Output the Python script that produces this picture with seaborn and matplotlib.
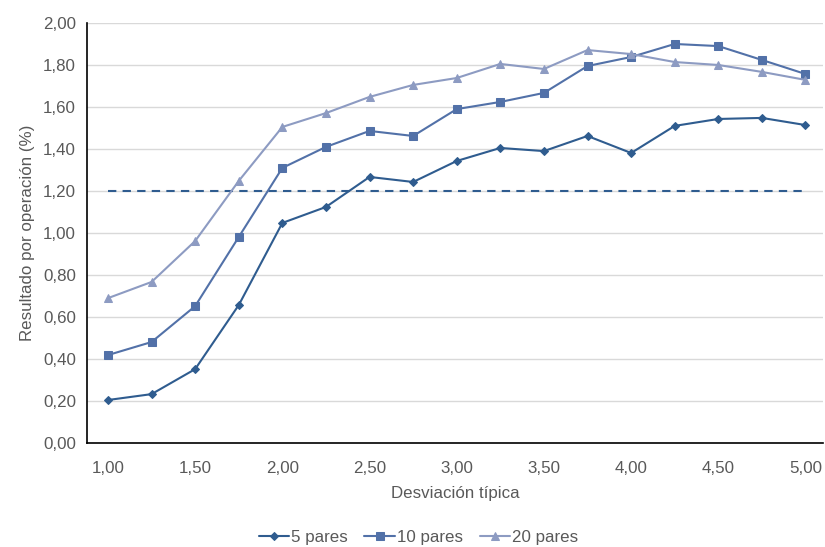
import matplotlib
matplotlib.use("Agg")
import matplotlib.pyplot as plt
from matplotlib.ticker import FuncFormatter, MultipleLocator
import seaborn as sns
import pandas as pd

desviacion = [1.00, 1.25, 1.50, 1.75, 2.00, 2.25, 2.50, 2.75, 3.00, 3.25,
              3.50, 3.75, 4.00, 4.25, 4.50, 4.75, 5.00]
pares_5 = [0.205, 0.233, 0.352, 0.657, 1.048, 1.124, 1.267, 1.243, 1.343, 1.405,
           1.390, 1.462, 1.381, 1.510, 1.543, 1.548, 1.514]
pares_10 = [0.419, 0.481, 0.652, 0.981, 1.310, 1.410, 1.486, 1.462, 1.590, 1.624,
            1.667, 1.795, 1.838, 1.900, 1.890, 1.824, 1.757]
pares_20 = [0.690, 0.767, 0.962, 1.248, 1.505, 1.571, 1.648, 1.705, 1.738, 1.805,
            1.781, 1.871, 1.852, 1.814, 1.800, 1.767, 1.729]
umbral = 1.20

series_names = ["5 pares", "10 pares", "20 pares"]
colors = ["#2F5C8F", "#5271A8", "#8D9BC2"]
markers = ["D", "s", "^"]
msizes = [3.6, 5.3, 5.8]

sns.set_theme(style="white")
plt.rcParams['font.family'] = ['Liberation Sans', 'DejaVu Sans']

fig = plt.figure(figsize=(8.25, 5.47), dpi=100)
ax = fig.add_axes([0.1055, 0.190, 0.892, 0.768])

ax.hlines(umbral, desviacion[0], desviacion[-1], colors="#2F5C8F",
          linestyles=(0, (4, 3)), linewidth=1.5, zorder=2)

for name, vals, c, m, ms in zip(series_names, [pares_5, pares_10, pares_20], colors, markers, msizes):
    df = pd.DataFrame({"x": desviacion, "y": vals})
    sns.lineplot(data=df, x="x", y="y", ax=ax, color=c, marker=m, markersize=ms,
                 markeredgecolor=c, linewidth=1.5, label=name, zorder=3)

ax.set_xlim(0.88, 5.10)
ax.set_ylim(0, 2.0)
ax.xaxis.set_major_locator(MultipleLocator(0.5))
ax.yaxis.set_major_locator(MultipleLocator(0.2))
fmt = FuncFormatter(lambda v, p: f"{v:.2f}".replace(".", ","))
ax.xaxis.set_major_formatter(fmt)
ax.yaxis.set_major_formatter(fmt)
ax.grid(axis="y", color="#D9D9D9", linewidth=1)
ax.set_axisbelow(True)
for s in ["top", "right"]:
    ax.spines[s].set_visible(False)
for s in ["left", "bottom"]:
    ax.spines[s].set_color("#000000")
    ax.spines[s].set_linewidth(1.2)
ax.tick_params(axis="both", length=0, labelsize=12.2, colors="#595959")
ax.tick_params(axis="x", pad=13)
ax.tick_params(axis="y", pad=8)
ax.set_xlabel("Desviación típica", fontsize=12.2, color="#595959", labelpad=7)
ax.set_ylabel("Resultado por operación (%)", fontsize=12.2, color="#595959", labelpad=6)

leg = ax.legend(loc="lower center", bbox_to_anchor=(0.45, -0.278), ncol=3, frameon=False,
                fontsize=12.2, handlelength=1.8, columnspacing=1.0, handletextpad=0.1)
for t in leg.get_texts():
    t.set_color("#595959")

fig.savefig("out.png", dpi=100)
